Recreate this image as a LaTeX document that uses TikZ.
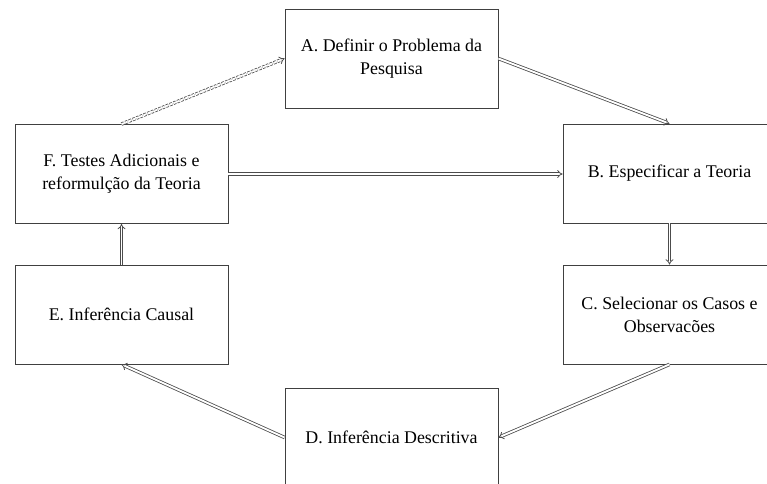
\documentclass[tikz,border=0pt]{standalone}
\usepackage{fontspec}
\setmainfont{Liberation Serif}
\usetikzlibrary{positioning, arrows.meta}

\begin{document}
\begin{tikzpicture}[
  x=0.75pt, y=-0.75pt,
  font=\fontsize{13.4}{17.2}\selectfont,
  stage/.style={draw=black!75, fill=white, line width=0.6pt, align=center,
    minimum width=159.75pt, minimum height=74.25pt, inner sep=3pt},
  flow/.style={-{Implies}, draw=gray!60!black, double=white, double distance=1.4pt, line width=0.6pt},
  back/.style={-{Implies}, draw=gray!60!black, double=white, double distance=1.4pt, line width=0.6pt,
    dash pattern=on 2pt off 1pt}
]
\useasboundingbox (0,0) rectangle (767,483);
\clip (0,0) rectangle (767,483);

% six stages round the cycle
\node[stage] (a) at (391.5,58.5)  {A. Definir o Problema da\\Pesquisa};
\node[stage] (b) at (669.5,173.5) {B. Especificar a Teoria};
\node[stage] (c) at (669.5,314.5) {C. Selecionar os Casos e\\Observacões};
\node[stage] (d) at (391.5,437.5) {D. Inferência Descritiva};
\node[stage] (e) at (121.5,314.5) {E. Inferência Causal};
\node[stage] (f) at (121.5,174)   {F. Testes Adicionais e\\reformulção da Teoria};

\draw[flow] (a.east) -- (b.north);
\draw[flow] (b.south) -- (c.north);
\draw[flow] (c.south) -- (d.east);
\draw[flow] (d.west) -- (e.south);
\draw[flow] (e.north) -- (f.south);
\draw[flow] (f.east) -- (f.east -| b.west);

% dashed return to the problem
\draw[back] (f.north) -- (a.west);

\end{tikzpicture}
\end{document}
